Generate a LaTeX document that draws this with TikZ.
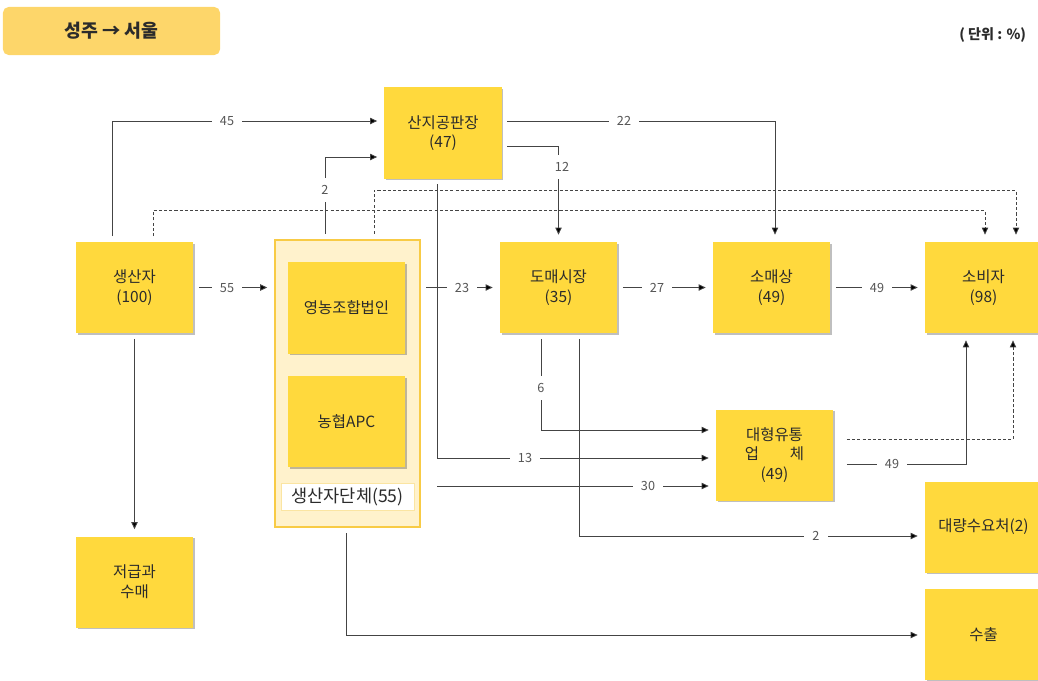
\documentclass[tikz,border=0pt]{standalone}
\usepackage{fontspec}
\setmainfont{Noto Sans CJK KR}
\usetikzlibrary{arrows.meta,calc,shadows}
\definecolor{boxyellow}{HTML}{FFD93D}
\definecolor{titleyellow}{HTML}{FDD66A}
\definecolor{grpfill}{HTML}{FFF2CC}
\definecolor{grpline}{HTML}{F8CB45}
\definecolor{textdark}{HTML}{2B2B2B}
\definecolor{linegray}{HTML}{444444}
\definecolor{labelgray}{HTML}{555555}

\begin{document}
\begin{tikzpicture}[x=0.025cm, y=-0.025cm,
  yelbox/.style={fill=boxyellow, minimum width=2.925cm, minimum height=2.275cm, align=center,
    text=textdark, font=\fontsize{11}{14}\selectfont,
    drop shadow={shadow xshift=1.2pt, shadow yshift=-1.2pt, fill=black, opacity=0.25}},
  groupbox/.style={fill=grpfill, draw=grpline, line width=1pt, minimum width=3.625cm, minimum height=7.175cm},
  grplbl/.style={fill=white, draw=grpline!50, minimum width=3.325cm, minimum height=0.675cm,
    text=textdark, font=\fontsize{12.5}{14}\selectfont},
  titlebox/.style={fill=titleyellow, rounded corners=4pt, minimum width=5.425cm, minimum height=1.2cm,
    text=textdark, font=\fontsize{13}{15}\selectfont\bfseries},
  flow/.style={draw=linegray, line width=0.6pt, -{Triangle[length=5pt,width=4.5pt,fill=black]},
    shorten >=5pt, shorten <=4pt},
  dashflow/.style={flow, dash pattern=on 2.2pt off 1.5pt},
  lbl/.style={fill=white, text=labelgray, font=\fontsize{9}{10}\selectfont, inner xsep=6pt, inner ysep=2.5pt}
]
\useasboundingbox (0,0) rectangle (1038,680);
\clip (0,0) rectangle (1038,680);

% title and unit
\node[titlebox] (title) at (111.5,31) {성주 → 서울};
\node[anchor=east, text=textdark, font=\fontsize{10}{12}\selectfont\bfseries] (unit) at (1031,35) {( 단위 : \%)};

% producer group
\node[groupbox] (grp) at (347.5,383.5) {};
\node[yelbox] (corp) at (346.5,308) {영농조합법인};
\node[yelbox] (apc) at (346.5,421.5) {농협APC};
\node[grplbl] (grplab) at (347.5,496.5) {생산자단체(55)};

% boxes
\node[yelbox] (prod) at (134.5,287.5) {생산자\\(100)};
\node[yelbox] (gong) at (443,133) {산지공판장\\(47)};
\node[yelbox] (whole) at (558.5,287.5) {도매시장\\(35)};
\node[yelbox] (retail) at (771.5,287.5) {소매상\\(49)};
\node[yelbox] (cons) at (983.5,287.5) {소비자\\(98)};
\node[yelbox] (large) at (774.5,455) {대형유통\\업\hspace{2em}체\\(49)};
\node[yelbox] (bulk) at (983.5,527) {대량수요처(2)};
\node[yelbox] (export) at (983.5,634.5) {수출};
\node[yelbox] (low) at (134.5,582) {저급과\\수매};

% dashed flows
\draw[dashflow] ($(prod.north)+(18.5,0)$) -- ++(0,-31) -| ($(cons.north)+(1.5,0)$);
\draw[dashflow] ($(grp.north)+(26.5,0)$) -- ++(0,-49) -| ($(cons.north)+(32.5,0)$);
\draw[dashflow] ($(large.east)+(8,-16)$) -| ($(cons.south)+(29.5,0)$);

% flows
\draw[flow] ($(prod.north)+(-22,0)$) |- ($(gong.west)+(0,-12)$);
\draw[flow] (prod.east) -- (prod.east -| grp.west);
\draw[flow] ($(grp.north)+(-22.5,0)$) |- ($(gong.west)+(0,24)$);
\draw[flow] ($(gong.east)+(0,-12)$) -| ($(retail.north)+(3.5,0)$);
\draw[flow] ($(gong.east)+(0,13)$) -| (whole.north);
\draw[flow] (grp.east |- whole.west) -- (whole.west);
\draw[flow] (whole) -- (retail);
\draw[flow] (retail) -- (cons);
\draw[flow] ($(gong.south)+(-6,0)$) |- ($(large.west)+(0,3)$);
\draw[flow] ($(whole.south)+(-17.5,0)$) |- ($(large.west)+(0,-25)$);
\coordinate (c30) at ($(large.west)+(0,31)$);
\draw[flow] ($(grp.east |- c30)+(11,0)$) -- (c30);
\draw[flow] ($(whole.south)+(20.5,0)$) |- ($(bulk.west)+(0,9)$);
\draw[flow] ($(large.east)+(8,9)$) -| ($(cons.south)+(-17.5,0)$);
\draw[flow] ($(grp.south)+(-1.5,0)$) |- ($(export.west)+(0,0.5)$);
\draw[flow] (prod) -- (low);

% labels
\node[lbl] at (227,121) {45};
\node[lbl] at (227,288) {55};
\node[lbl, inner xsep=2.5pt, inner ysep=5pt] at (325,190) {2};
\node[lbl] at (624,121) {22};
\node[lbl, inner xsep=2.5pt, inner ysep=5pt] at (562,167) {12};
\node[lbl] at (462,288) {23};
\node[lbl] at (657,288) {27};
\node[lbl] at (877,288) {49};
\node[lbl] at (525,458) {13};
\node[lbl, inner xsep=2.5pt, inner ysep=5pt] at (541,388) {6};
\node[lbl] at (648,486) {30};
\node[lbl] at (816,536) {2};
\node[lbl] at (892,464) {49};

\end{tikzpicture}
\end{document}
